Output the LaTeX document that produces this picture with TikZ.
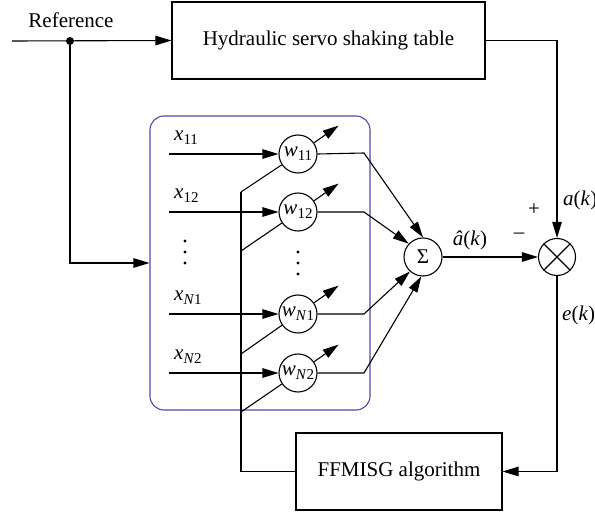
\documentclass[tikz,border=0pt]{standalone}
\usepackage{fontspec}
\setmainfont{Liberation Serif}
\usetikzlibrary{arrows.meta}
\definecolor{nnframe}{RGB}{82,72,165}
% italic symbol with a lowered, smaller index
\newcommand\symsub[2]{\textit{#1}\raisebox{-0.4ex}{\fontsize{15}{17}\selectfont #2}}
\begin{document}
\begin{tikzpicture}[x=1pt,y=-1pt,
  font=\fontsize{21}{25}\selectfont,
  line/.style={draw, line width=1.1pt},
  arr/.style={line, -{Triangle[length=16pt,width=9.5pt]}},
  block/.style={draw, line width=1.1pt, inner sep=0pt},
  wnode/.style={draw, circle, line width=1.1pt, minimum size=38pt, inner sep=0pt},
  junction/.style={circle, fill, inner sep=0pt, minimum size=8pt},
  dotmark/.style={circle, fill, inner sep=0pt, minimum size=3.2pt},
  lbl/.style={inner sep=0pt}]
\useasboundingbox (0,0) rectangle (595,513);

% main blocks
\node[block, minimum width=313pt, minimum height=77pt] (table) at (328.5,40.5) {Hydraulic servo shaking table};
\node[block, minimum width=206pt, minimum height=77pt] (ffm) at (399,471.5) {FFMISG algorithm};
\node[draw=nnframe, line width=1.1pt, rounded corners=14pt, minimum width=220pt, minimum height=294pt] (nn) at (260,263) {};

% reference input
\coordinate (refin) at (12,41);
\node[junction] (split) at (70,41) {};
\node[lbl] at (71,20) {Reference};
\draw[arr] (refin) -- (table.west);
\draw[arr] (split) |- (nn.west);

% weights
\node[wnode] (w11) at (298,154) {\symsub{w}{11}};
\node[wnode] (w12) at (298,212) {\symsub{w}{12}};
\node[wnode] (wN1) at (298,314) {\symsub{w}{\textit{N}1}};
\node[wnode] (wN2) at (298,373) {\symsub{w}{\textit{N}2}};

% inputs
\foreach \n/\y/\t in {w11/154/{11}, w12/212/{12}, wN1/314/{\textit{N}1}, wN2/373/{\textit{N}2}} {
  \coordinate (in\n) at (169,\y);
  \draw[arr] (in\n) -- (\n.west);
  \node[lbl, anchor=south west] at (174,\y-9) {\symsub{x}{\t}};
}
% vertical ellipses
\foreach \y in {241,252,263} \node[dotmark] at (185,\y) {};
\foreach \y in {252,263,274} \node[dotmark] at (298,\y) {};

% summation and comparison
\node[wnode] (sig) at (423,257) {Σ};
\node[draw, circle, line width=1.1pt, minimum size=37pt, inner sep=0pt] (mul) at (557,257) {};
\draw[line] (mul.45) -- (mul.225);
\draw[line] (mul.135) -- (mul.315);

% weight outputs into the sum
\coordinate (o11) at (364,153);
\coordinate (o12) at (364,212);
\coordinate (oN1) at (364,314);
\coordinate (oN2) at (364,373);
\draw[arr] (w11.east) -- (o11) -- (sig.north);
\draw[arr] (w12.east) -- (o12) -- (sig.137);
\draw[arr] (wN1.east) -- (oN1) -- (sig.228);
\draw[arr] (wN2.east) -- (oN2) -- (sig.265);

% adaptation path
\coordinate (b11) at (241,192);
\coordinate (b12) at (241,251);
\coordinate (bN1) at (241,354);
\coordinate (bN2) at (241,412);
\draw[line] (ffm.west) -| (b11);
\foreach \b/\w in {b11/w11, b12/w12, bN1/wN1, bN2/wN2} {
  \draw[line] (\b) -- (\w);
  \draw[arr] (\w.35) -- ++(35:30pt);
}

% signals
\draw[arr] (sig) -- (mul);
\draw[arr] (table.east) -| (mul.north);
\draw[arr] (mul.south) |- (ffm.east);

\node[lbl] at (470,240) {\textit{â}(\textit{k})};
\node[lbl] at (519,236) {–};
\node[lbl] at (534,210) {+};
\node[lbl, anchor=west] at (563,200) {\textit{a}(\textit{k})};
\node[lbl, anchor=west] at (562,315) {\textit{e}(\textit{k})};
\end{tikzpicture}
\end{document}
